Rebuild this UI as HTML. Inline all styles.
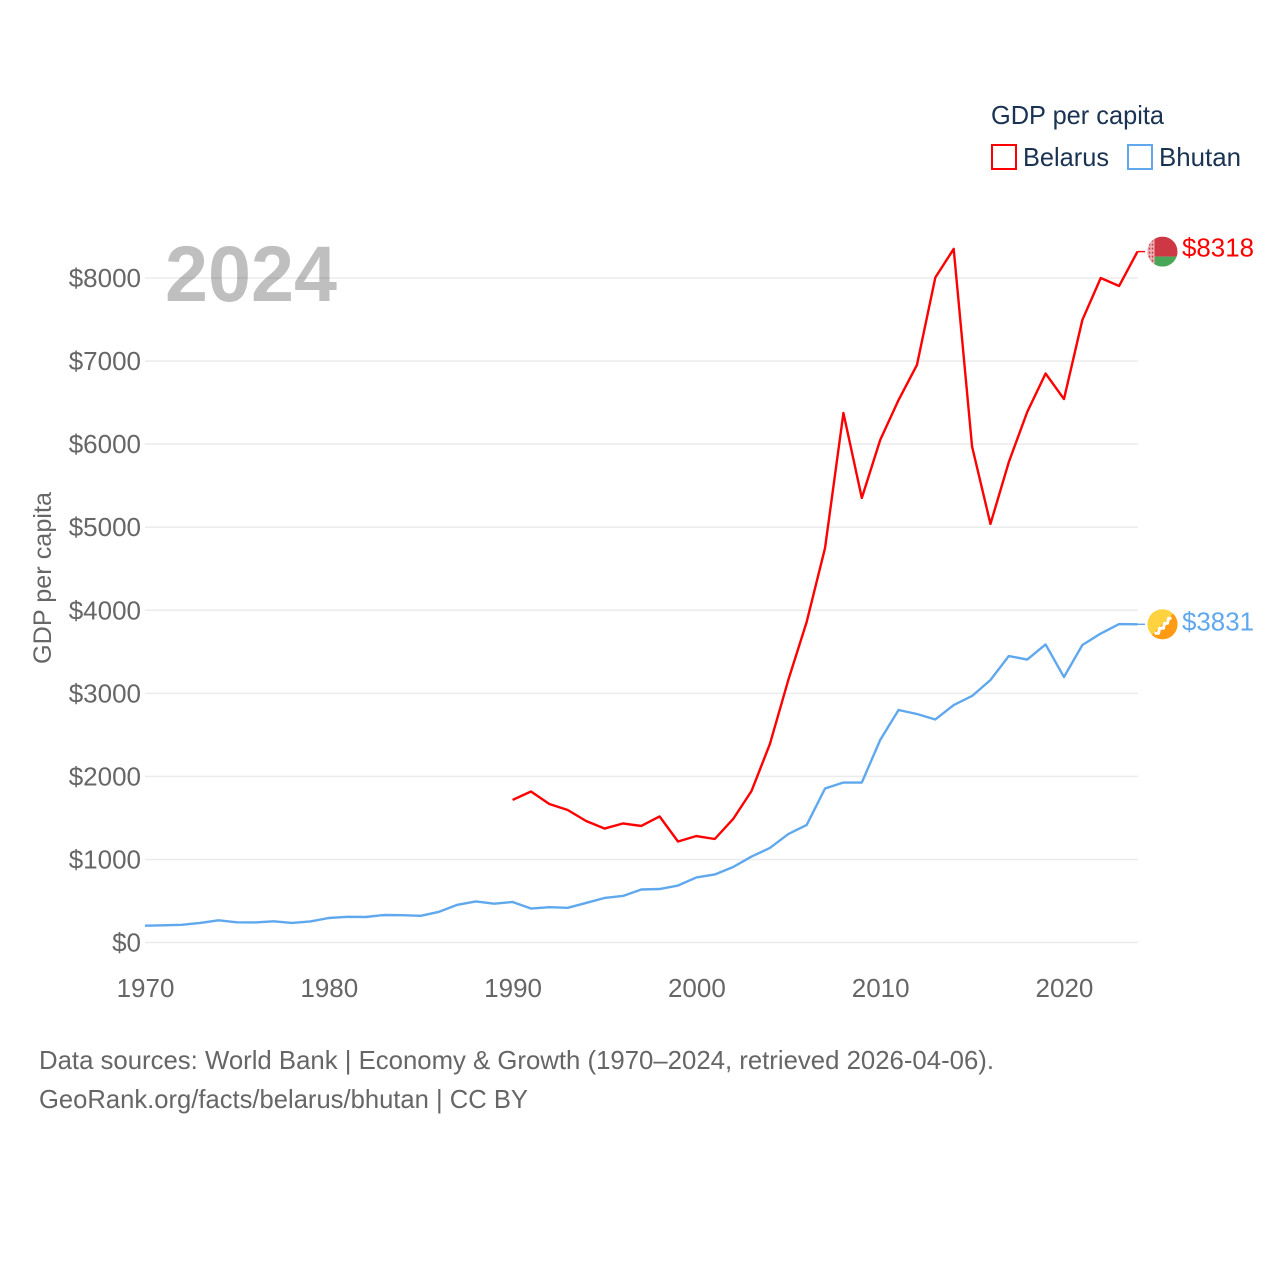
<!DOCTYPE html>
<html lang="en">
<head>
<meta charset="utf-8">
<title>GDP per capita: Belarus and Bhutan</title>
<style>
html,body{margin:0;padding:0;background:#fff;width:1280px;height:1280px;overflow:hidden}
svg{display:block}
text{font-family:"Liberation Sans",sans-serif}
</style>
</head>
<body>
<svg id="chart" xmlns="http://www.w3.org/2000/svg" width="1280" height="1280" viewBox="0 0 1280 1280">
  <g id="grid"></g>
  <g id="ytick-group"></g>
  <g id="xtick-group"></g>
  <text x="165" y="301" font-size="79" font-weight="700" fill="#000" fill-opacity="0.25" textLength="172" lengthAdjust="spacingAndGlyphs">2024</text>
  <text transform="translate(51,578) rotate(-90)" text-anchor="middle" font-size="25" fill="#666" textLength="172" lengthAdjust="spacingAndGlyphs">GDP per capita</text>
  <g id="series-group"></g>
  <g>
    <clipPath id="clip-by"><circle id="by-clip-c" r="15"></circle></clipPath>
    <g id="flag-by" clip-path="url(#clip-by)"></g>
  </g>
  <g>
    <clipPath id="clip-bt"><circle id="bt-clip-c" r="15"></circle></clipPath>
    <g id="flag-bt" clip-path="url(#clip-bt)"></g>
  </g>
  <text id="label-by" x="1182" font-size="25.5" fill="#ff0000" textLength="72" lengthAdjust="spacingAndGlyphs"></text>
  <text id="label-bt" x="1182" font-size="25.5" fill="#5fa8ee" textLength="72" lengthAdjust="spacingAndGlyphs"></text>
  <g>
    <text x="991" y="124" font-size="26" fill="#1a3352" textLength="173" lengthAdjust="spacingAndGlyphs">GDP per capita</text>
    <g>
      <rect x="992" y="145" width="24" height="24" fill="none" stroke="#ff0000" stroke-width="2"></rect>
      <text x="1023" y="166" font-size="26" fill="#1a3352" textLength="86" lengthAdjust="spacingAndGlyphs">Belarus</text>
    </g>
    <g>
      <rect x="1128" y="145" width="24" height="24" fill="none" stroke="#5fa8ee" stroke-width="2"></rect>
      <text x="1159" y="166" font-size="26" fill="#1a3352" textLength="82" lengthAdjust="spacingAndGlyphs">Bhutan</text>
    </g>
  </g>
  <text x="39" y="1069" font-size="26" fill="#666" textLength="955" lengthAdjust="spacingAndGlyphs">Data sources: World Bank | Economy &amp; Growth (1970–2024, retrieved 2026-04-06).</text>
  <text x="39" y="1108" font-size="26" fill="#666" textLength="489" lengthAdjust="spacingAndGlyphs">GeoRank.org/facts/belarus/bhutan | CC BY</text>
</svg>
<script>
const NS = 'http://www.w3.org/2000/svg';
const yTicks = [0, 1000, 2000, 3000, 4000, 5000, 6000, 7000, 8000];
const xTicks = [1970, 1980, 1990, 2000, 2010, 2020];
const belarusStartYear = 1990;
const belarusValues = [1716, 1818, 1667, 1595, 1463, 1372, 1433, 1403, 1517, 1216, 1282, 1246, 1487, 1824, 2390, 3160, 3859, 4750, 6375, 5352, 6050, 6531, 6953, 8006, 8350, 5970, 5039, 5785, 6387, 6850, 6543, 7495, 8000, 7904, 8318];
const bhutanStartYear = 1970;
const bhutanValues = [202, 207, 213, 235, 267, 243, 241, 255, 235, 253, 295, 309, 307, 331, 329, 321, 370, 454, 494, 467, 488, 409, 425, 418, 476, 536, 560, 638, 644, 686, 783, 819, 909, 1035, 1138, 1306, 1415, 1854, 1926, 1926, 2438, 2799, 2751, 2685, 2859, 2968, 3160, 3449, 3407, 3588, 3196, 3582, 3720, 3834, 3831];

function xScale(year) { return 145 + (year - 1970) * (1137.5 - 145) / 54; }
function yScale(v) { return 942.5 - v * (942.5 - 278) / 8000; }
function mk(tag, parent, attrs) {
  const el = document.createElementNS(NS, tag);
  for (const k in attrs) el.setAttribute(k, attrs[k]);
  parent.appendChild(el);
  return el;
}

const grid = document.getElementById('grid');
const yGroup = document.getElementById('ytick-group');
yTicks.forEach(function (v) {
  const line = mk('line', grid, {x1: 145, x2: 1138, y1: yScale(v), y2: yScale(v), stroke: '#ebebeb', 'stroke-width': 1.5});
  
  
  const t = mk('text', yGroup, {x: 141, y: yScale(v) + 9, 'text-anchor': 'end', 'font-size': 26, fill: '#666'});
  t.textContent = '$' + v;
  
  
});

const xGroup = document.getElementById('xtick-group');
xTicks.forEach(function (yr) {
  const t = mk('text', xGroup, {x: xScale(yr) + 0.5, y: 997, 'text-anchor': 'middle', 'font-size': 26, fill: '#666'});
  t.textContent = String(yr);
  
  
});

function pathFor(start, values) {
  return values.map(function (v, i) {
    return (i ? 'L' : 'M') + xScale(start + i).toFixed(2) + ' ' + yScale(v).toFixed(2);
  }).join(' ');
}
const series = document.getElementById('series-group');
const bhutanLine = mk('path', series, {d: pathFor(bhutanStartYear, bhutanValues), fill: 'none', stroke: '#5fa8ee', 'stroke-width': 2.4, 'stroke-linejoin': 'round'});


const belarusLine = mk('path', series, {d: pathFor(belarusStartYear, belarusValues), fill: 'none', stroke: '#ff0000', 'stroke-width': 2.4, 'stroke-linejoin': 'round'});



const lastBy = belarusValues[belarusValues.length - 1];
const lastBt = bhutanValues[bhutanValues.length - 1];
const xEnd = xScale(2024);
const yBy = yScale(lastBy);
const yBt = yScale(lastBt);
const connBy = mk('line', series, {x1: xEnd, x2: 1145, y1: yBy, y2: yBy, stroke: '#ff0000', 'stroke-width': 1.4});


const connBt = mk('line', series, {x1: xEnd, x2: 1145, y1: yBt, y2: yBt, stroke: '#5fa8ee', 'stroke-width': 1.4});



const cx = 1162.5;
document.getElementById('by-clip-c').setAttribute('cx', cx);
document.getElementById('by-clip-c').setAttribute('cy', yBy);
document.getElementById('bt-clip-c').setAttribute('cx', cx);
document.getElementById('bt-clip-c').setAttribute('cy', yBt);

const fb = document.getElementById('flag-by');
mk('rect', fb, {x: cx - 15, y: yBy - 15, width: 30, height: 20, fill: '#ce3744'});
mk('rect', fb, {x: cx - 15, y: yBy + 5, width: 30, height: 10, fill: '#4aa657'});
mk('rect', fb, {x: cx - 15, y: yBy - 15, width: 7, height: 30, fill: '#eeb4b8'});
mk('path', fb, {d: 'M' + (cx - 13) + ' ' + (yBy - 12) + 'v24M' + (cx - 10) + ' ' + (yBy - 12) + 'v24', stroke: '#ce3744', 'stroke-width': 1.5, 'stroke-dasharray': '2 2', fill: 'none'});

const ft = document.getElementById('flag-bt');
mk('rect', ft, {x: cx - 16, y: yBt - 16, width: 32, height: 32, fill: '#ffd23f'});
mk('path', ft, {d: 'M' + (cx + 16) + ' ' + (yBt - 16) + 'L' + (cx + 16) + ' ' + (yBt + 16) + 'L' + (cx - 16) + ' ' + (yBt + 16) + 'Z', fill: '#ff9a14'});
mk('path', ft, {d: 'M' + (cx - 8) + ' ' + (yBt + 9) + 'h4l1 -5h4l1 -5h3l1 -5h3', fill: 'none', stroke: '#fff', 'stroke-width': 3, 'stroke-linejoin': 'round'});

const labelBy = document.getElementById('label-by');
labelBy.setAttribute('y', yBy + 5);
labelBy.textContent = '$' + lastBy;
const labelBt = document.getElementById('label-bt');
labelBt.setAttribute('y', yBt + 6);
labelBt.textContent = '$' + lastBt;
</script>
</body>
</html>
